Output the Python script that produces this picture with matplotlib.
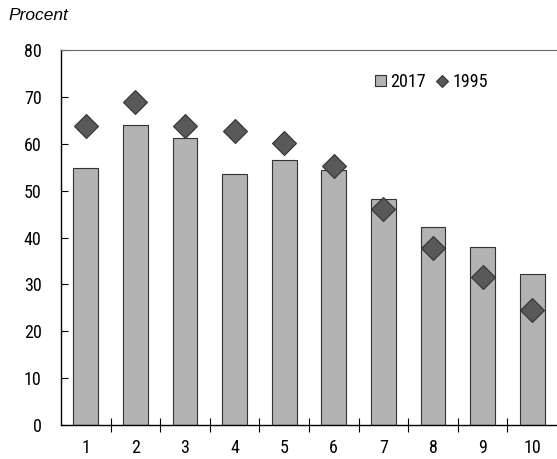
import numpy as np
import matplotlib.pyplot as plt

plt.rcParams['font.family'] = ['Roboto Condensed', 'Liberation Sans Narrow', 'DejaVu Sans']

kategorie = ['1', '2', '3', '4', '5', '6', '7', '8', '9', '10']
wartosci_2017 = [54.8, 64.0, 61.2, 53.5, 56.5, 54.4, 48.2, 42.2, 38.0, 32.2]
wartosci_1995 = [63.8, 68.9, 63.8, 62.7, 60.1, 55.2, 46.0, 37.7, 31.5, 24.5]

fig = plt.figure(figsize=(5.57, 4.59), dpi=100)
ax = fig.add_axes([0.1095, 0.074, 0.8905, 0.817])

x = np.arange(len(kategorie))
slupki = ax.bar(x, wartosci_2017, width=0.5, color='#b3b3b3', edgecolor='#333333',
                linewidth=0.8, label='2017', zorder=2)
romby, = ax.plot(x, wartosci_1995, linestyle='none', marker='D', markersize=12,
                 color='#595959', markeredgecolor='#333333', markeredgewidth=0.8,
                 label='1995', zorder=3)

ax.set_xlim(-0.5, len(kategorie) - 0.5)
ax.set_ylim(0, 80)
ax.set_yticks(range(0, 81, 10))
ax.set_xticks(x)
ax.set_xticklabels(kategorie)
ax.set_xticks(np.arange(0.5, len(kategorie) - 0.5, 1), minor=True)
ax.tick_params(axis='x', which='major', length=0, pad=10, labelsize=13)
ax.tick_params(axis='x', which='minor', direction='inout', length=10, width=0.8)
ax.tick_params(axis='y', direction='in', length=5, width=0.8, labelsize=13, pad=14)

ax.spines['right'].set_visible(False)
ax.spines['top'].set_color('#666666')
ax.spines['left'].set_linewidth(1.0)
ax.spines['bottom'].set_linewidth(1.0)

ax.legend([slupki, romby], ['2017', '1995'], loc='center',
          bbox_to_anchor=(0.747, 0.915), ncol=2, frameon=False,
          fontsize=13, handlelength=0.6, handleheight=0.6, handletextpad=0.25,
          columnspacing=0.6, markerscale=0.55)

fig.text(0.016, 0.967, 'Procent', fontsize=12.5, style='italic',
         family='Liberation Sans', va='center')

plt.savefig('out.png')
